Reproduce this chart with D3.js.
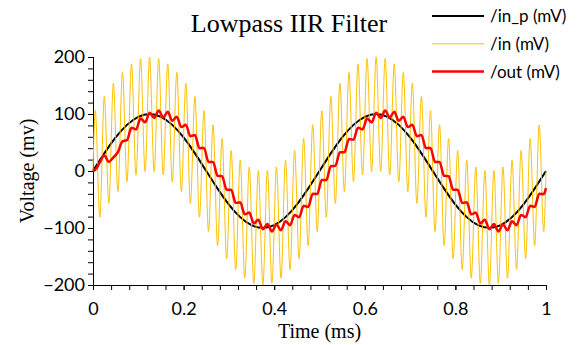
<!DOCTYPE html>
<html>
<head>
<meta charset="utf-8">
<script src="https://cdn.jsdelivr.net/npm/d3@7"></script>
<style>
  html, body { margin: 0; padding: 0; background: #fff; }
  svg { display: block; }
</style>
</head>
<body>
<svg id="chart" width="578" height="345"></svg>
<script>
// Time base (ms)
const timeDomain = [0, 1];
const xTicks = [0, 0.2, 0.4, 0.6, 0.8, 1];
const yTicks = [-200, -100, 0, 100, 200];

// /in_p : clean 2 kHz reference, sampled every 0.025 ms
const inPStep = 0.025;
const inP = [0, 30.9, 58.8, 80.9, 95.1, 100, 95.1, 80.9, 58.8, 30.9,
             0, -30.9, -58.8, -80.9, -95.1, -100, -95.1, -80.9, -58.8, -30.9,
             0, 30.9, 58.8, 80.9, 95.1, 100, 95.1, 80.9, 58.8, 30.9,
             0, -30.9, -58.8, -80.9, -95.1, -100, -95.1, -80.9, -58.8, -30.9, 0];

// /in : noisy input, peaks and troughs every 0.01 ms starting at 0.005 ms
const extremaStart = 0.005;
const extremaStep = 0.01;
const inNoisy = [106, -81, 131, -57, 154, -36, 173, -19, 188, -7,
                 197, -1, 200, -1, 197, -7, 188, -19, 173, -36,
                 154, -57, 131, -81, 106, -106, 81, -131, 57, -154,
                 36, -173, 19, -188, 7, -197, 1, -200, 1, -197,
                 7, -188, 19, -173, 36, -154, 57, -131, 81, -106,
                 106, -81, 131, -57, 154, -36, 173, -19, 188, -7,
                 197, -1, 200, -1, 197, -7, 188, -19, 173, -36,
                 154, -57, 131, -81, 106, -106, 81, -131, 57, -154,
                 36, -173, 19, -188, 7, -197, 1, -200, 1, -197,
                 7, -188, 19, -173, 36, -154, 57, -131, 81, -106];

// /out : filter output, at the same instants as the /in extrema
const outFiltered = [2, 15, 27, 16, 24, 33, 52, 54, 76, 73,
                     92, 85.5, 102, 93, 106, 94, 104, 88, 95, 77,
                     81, 61, 63, 40, 40.5, 16, 16, -8.5, -9, -33,
                     -33, -56, -55, -76, -73, -92, -85.5, -102, -93, -106,
                     -94, -104, -88, -95, -77, -81, -61, -63, -40, -40.5,
                     -16, -16, 8.5, 9, 33, 33, 56, 55, 76, 73,
                     92, 85.5, 102, 93, 106, 94, 104, 88, 95, 77,
                     81, 61, 63, 40, 40.5, 16, 16, -8.5, -9, -33,
                     -33, -56, -55, -76, -73, -92, -85.5, -102, -93, -106,
                     -94, -104, -88, -95, -77, -81, -61, -63, -40, -40.5];
const startValues = { inNoisy: 0, outFiltered: 0 };
const endValues = { inNoisy: 0, outFiltered: -30 };

const seriesNames = ["/in_p (mV)", "/in (mV)", "/out (mV)"];
const seriesColors = ["#000000", "#FFC000", "#FF0000"];
const seriesWidths = [2, 1, 2.5];

const svg = d3.select("#chart");
const plot = { left: 93, right: 546, top: 57, bottom: 285 };

const x = d3.scaleLinear().domain(timeDomain).range([plot.left, plot.right]);
const y = d3.scaleLinear().domain([-200, 200]).range([plot.bottom, plot.top]);

const sansFont = "Lato, 'Open Sans', 'Liberation Sans', sans-serif";
const serifFont = "'Liberation Serif', 'DejaVu Serif', serif";

// Build point lists
const inPPoints = inP.map((v, i) => [i * inPStep, v]);
function extremaSeries(vals, start, end) {
  const pts = [[timeDomain[0], start]];
  vals.forEach((v, i) => pts.push([extremaStart + i * extremaStep, v]));
  pts.push([timeDomain[1], end]);
  return pts;
}
const inPoints = extremaSeries(inNoisy, startValues.inNoisy, endValues.inNoisy);
const outPoints = extremaSeries(outFiltered, startValues.outFiltered, endValues.outFiltered);

// Axes
const xAxisMinor = d3.axisBottom(x).tickValues(d3.range(0, 1.0001, 0.04)).tickSize(5).tickFormat("");
const xAxis = d3.axisBottom(x).tickValues(xTicks).tickSize(5).tickPadding(12)
  .tickFormat(d => d3.format("")(+d.toFixed(1)));
const yAxisMinor = d3.axisLeft(y).tickValues(d3.range(-200, 200.1, 20)).tickSize(5).tickFormat("");
const yAxis = d3.axisLeft(y).tickValues(yTicks).tickSize(5).tickPadding(3);

function styleAxis(g) {
  g.select(".domain").attr("stroke", "#000").attr("stroke-width", 1);
  g.selectAll(".tick line").attr("stroke", "#000").attr("stroke-width", 1);
  g.selectAll(".tick text").attr("fill", "#000").style("font-family", sansFont).style("font-size", "18px");
}

svg.append("g").attr("transform", `translate(0,${plot.bottom})`).call(xAxisMinor).call(styleAxis);
svg.append("g").attr("transform", `translate(0,${plot.bottom})`).call(xAxis).call(styleAxis);
svg.append("g").attr("transform", `translate(${plot.left},0)`).call(yAxisMinor).call(styleAxis);
svg.append("g").attr("transform", `translate(${plot.left},0)`).call(yAxis).call(styleAxis);

// Series lines
const smooth = d3.line().x(d => x(d[0])).y(d => y(d[1])).curve(d3.curveNatural);
const mono = d3.line().x(d => x(d[0])).y(d => y(d[1])).curve(d3.curveMonotoneX);

svg.append("path").attr("d", smooth(inPPoints)).attr("fill", "none")
  .attr("stroke", seriesColors[0]).attr("stroke-width", seriesWidths[0]);
svg.append("path").attr("d", mono(inPoints)).attr("fill", "none")
  .attr("stroke", seriesColors[1]).attr("stroke-width", seriesWidths[1]);
svg.append("path").attr("d", mono(outPoints)).attr("fill", "none")
  .attr("stroke", seriesColors[2]).attr("stroke-width", seriesWidths[2])
  .attr("stroke-linejoin", "round");

// Title
svg.append("text").attr("x", 289).attr("y", 32).attr("text-anchor", "middle")
  .style("font-family", serifFont).style("font-size", "26px").text("Lowpass IIR Filter");

// Axis titles
svg.append("text").attr("x", (plot.left + plot.right) / 2).attr("y", 338).attr("text-anchor", "middle")
  .style("font-family", serifFont).style("font-size", "20px").text("Time (ms)");
svg.append("text").attr("transform", `translate(27,${(plot.top + plot.bottom) / 2}) rotate(-90)`)
  .attr("text-anchor", "middle").attr("dy", "0.35em")
  .style("font-family", serifFont).style("font-size", "20px").text("Voltage (mv)");

// Legend
const legend = svg.append("g");
seriesNames.forEach((name, i) => {
  const ly = 16 + i * 27.8;
  legend.append("line").attr("x1", 432).attr("x2", 484).attr("y1", ly).attr("y2", ly)
    .attr("stroke", seriesColors[i]).attr("stroke-width", seriesWidths[i]);
  legend.append("text").attr("x", 490).attr("y", ly + 6)
    .style("font-family", sansFont).style("font-size", "17px").text(name);
});
</script>
</body>
</html>
